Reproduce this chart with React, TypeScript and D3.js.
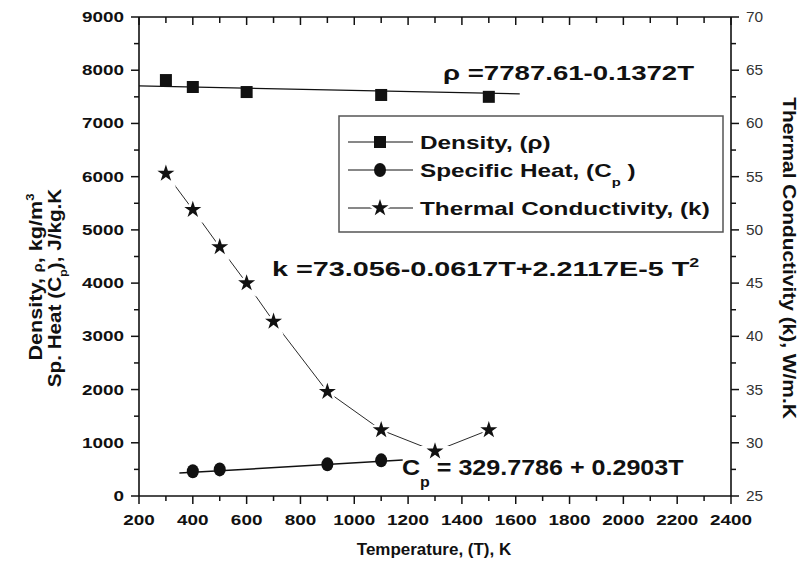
import React from 'react';
import * as d3 from 'd3';

const densityT = [300, 400, 600, 1100, 1500];
const densityVals = [7815, 7685, 7590, 7535, 7500];
const densityFitT = [200, 1615];
const densityFitVals = [7705, 7555];

const cpT = [400, 500, 900, 1100];
const cpVals = [465, 500, 595, 670];
const cpFitT = [350, 1180];
const cpFitVals = [430, 675];

const kT = [300, 400, 500, 600, 700, 900, 1100, 1300, 1500];
const kVals = [55.3, 51.9, 48.4, 45.0, 41.4, 34.8, 31.2, 29.2, 31.2];

const xTicks = d3.range(200, 2401, 200);
const xMinor = d3.range(200, 2401, 100);
const leftTicks = d3.range(0, 9001, 1000);
const leftMinor = d3.range(0, 9001, 500);
const rightTicks = d3.range(25, 71, 5);
const rightMinor = d3.range(25, 70.1, 2.5);

const W = 803;
const H = 573;
const plot = { left: 139, right: 731, top: 17, bottom: 496 };

const x = d3.scaleLinear().domain([200, 2400]).range([plot.left, plot.right]);
const yL = d3.scaleLinear().domain([0, 9000]).range([plot.bottom, plot.top]);
const yR = d3.scaleLinear().domain([25, 70]).range([plot.bottom, plot.top]);

const font = "'Liberation Sans', Arial, sans-serif";
const ink = '#111';

function Txt({ x, y, size, sx = 1.3, rot = 0, anchor = 'start', weight = 'bold', fill = ink, children }: any) {
  return (
    <text
      transform={`translate(${x},${y}) rotate(${rot}) scale(${sx},1)`}
      fontSize={size}
      fontWeight={weight}
      textAnchor={anchor}
      fontFamily={font}
      fill={fill}
    >
      {children}
    </text>
  );
}

const starPath = d3.symbol(d3.symbolStar, 90)()!;
const line = d3.line<[number, number]>();

function Square({ cx, cy }: { cx: number; cy: number }) {
  return <rect x={cx - 6} y={cy - 6} width={12} height={12} fill={ink} />;
}
function Dot({ cx, cy }: { cx: number; cy: number }) {
  return <ellipse cx={cx} cy={cy} rx={6} ry={7} fill={ink} />;
}
function Star({ cx, cy, halo = true }: { cx: number; cy: number; halo?: boolean }) {
  return (
    <g transform={`translate(${cx},${cy})`}>
      {halo && <path d={starPath} fill="white" stroke="white" strokeWidth={5} />}
      <path d={starPath} fill={ink} />
    </g>
  );
}

export default function App() {
  const densityFit = line(densityFitT.map((t, i) => [x(t), yL(densityFitVals[i])]));
  const cpFit = line(cpFitT.map((t, i) => [x(t), yL(cpFitVals[i])]));
  const kLine = line(kT.map((t, i) => [x(t), yR(kVals[i])]));

  const lg = { x: 339, y: 116, w: 384, h: 116 };
  const rows = [142, 170, 208];

  return (
    <svg width={W} height={H} style={{ position: 'absolute', left: 0, top: 0, background: 'white' }}>
      <rect width={W} height={H} fill="white" />

      {/* frame */}
      <g stroke={ink} strokeWidth={1.6} fill="none">
        <line x1={plot.left} x2={plot.right} y1={plot.top} y2={plot.top} />
        <line x1={plot.left} x2={plot.right} y1={plot.bottom} y2={plot.bottom} />
        <line x1={plot.left} x2={plot.left} y1={plot.top} y2={plot.bottom} />
        <line x1={plot.right} x2={plot.right} y1={plot.top} y2={plot.bottom} />
      </g>

      {/* ticks */}
      <g stroke={ink} strokeWidth={1.5}>
        {xMinor.map((t) => {
          const major = t % 200 === 0;
          return (
            <g key={'x' + t}>
              <line x1={x(t)} x2={x(t)} y1={plot.bottom} y2={plot.bottom + (major ? 8 : 5)} />
              <line x1={x(t)} x2={x(t)} y1={plot.top} y2={plot.top + (major ? 8 : 6)} />
            </g>
          );
        })}
        {leftMinor.map((v) => (
          <line key={'l' + v} x1={plot.left - (v % 1000 === 0 ? 8 : 5)} x2={plot.left} y1={yL(v)} y2={yL(v)} />
        ))}
        {rightMinor.map((v) => (
          <line key={'r' + v} x1={plot.right} x2={plot.right + (v % 5 === 0 ? 8 : 5)} y1={yR(v)} y2={yR(v)} />
        ))}
      </g>

      {/* tick labels */}
      {xTicks.map((t) => (
        <Txt key={'xt' + t} x={x(t)} y={525} size={14} sx={1.35} anchor="middle">{t}</Txt>
      ))}
      {leftTicks.map((v) => (
        <Txt key={'lt' + v} x={124} y={yL(v) + 5} size={14} sx={1.35} anchor="end">{v}</Txt>
      ))}
      {rightTicks.map((v) => (
        <Txt key={'rt' + v} x={746} y={yR(v) + 5} size={14} sx={1.1} weight="normal" fill="#333">{v}</Txt>
      ))}

      {/* axis titles */}
      <Txt x={434} y={555} size={16.5} sx={1.03} anchor="middle">Temperature, (T), K</Txt>
      <Txt x={42} y={277} size={18} sx={1.2} rot={-90} anchor="middle">
        Density, <tspan fontSize={12}>ρ</tspan>, kg/m<tspan fontSize={11} dy={-8}>3</tspan>
      </Txt>
      <Txt x={61} y={288} size={18} sx={1.15} rot={-90} anchor="middle">
        Sp. Heat (C<tspan fontSize={11} dy={6}>p</tspan><tspan dy={-6}>), J/kg.K</tspan>
      </Txt>
      <Txt x={783} y={258} size={19} sx={1.1} rot={90} anchor="middle">Thermal Conductivity (k), W/m.K</Txt>

      {/* density */}
      <path d={densityFit ?? ''} stroke={ink} strokeWidth={1.3} fill="none" />
      {densityT.map((t, i) => (
        <Square key={'d' + t} cx={x(t)} cy={yL(densityVals[i])} />
      ))}

      {/* specific heat */}
      <path d={cpFit ?? ''} stroke={ink} strokeWidth={1.5} fill="none" />
      {cpT.map((t, i) => (
        <Dot key={'c' + t} cx={x(t)} cy={yL(cpVals[i])} />
      ))}

      {/* thermal conductivity */}
      <path d={kLine ?? ''} stroke={ink} strokeWidth={0.9} fill="none" />
      {kT.map((t, i) => (
        <Star key={'k' + t} cx={x(t)} cy={yR(kVals[i])} />
      ))}

      {/* equations */}
      <Txt x={443} y={80} size={20} sx={1.38}>ρ =7787.61-0.1372T</Txt>
      <Txt x={272} y={276} size={21} sx={1.37}>
        k =73.056-0.0617T+2.2117E-5 T<tspan fontSize={13} dy={-9}>2</tspan>
      </Txt>
      <Txt x={402} y={475} size={22} sx={1.14}>
        C<tspan fontSize={14} dy={12}>p</tspan><tspan dy={-12}> = 329.7786 + 0.2903T</tspan>
      </Txt>

      {/* legend */}
      <rect x={lg.x} y={lg.y} width={lg.w} height={lg.h} fill="white" stroke="#555" strokeWidth={1.5} />
      {rows.map((ry, i) => (
        <g key={'lg' + i}>
          <line x1={348} x2={413} y1={ry} y2={ry} stroke={ink} strokeWidth={1} />
          {i === 0 && <Square cx={380} cy={ry} />}
          {i === 1 && <Dot cx={380} cy={ry} />}
          {i === 2 && <Star cx={380} cy={ry} />}
        </g>
      ))}
      <Txt x={420} y={rows[0] + 7} size={18} sx={1.35}>Density, (ρ)</Txt>
      <Txt x={420} y={rows[1] + 7} size={18} sx={1.35}>
        Specific Heat, (C<tspan fontSize={11} dy={9}>p</tspan><tspan dy={-9}> )</tspan>
      </Txt>
      <Txt x={420} y={rows[2] + 7} size={18} sx={1.35}>Thermal Conductivity, (k)</Txt>
    </svg>
  );
}
